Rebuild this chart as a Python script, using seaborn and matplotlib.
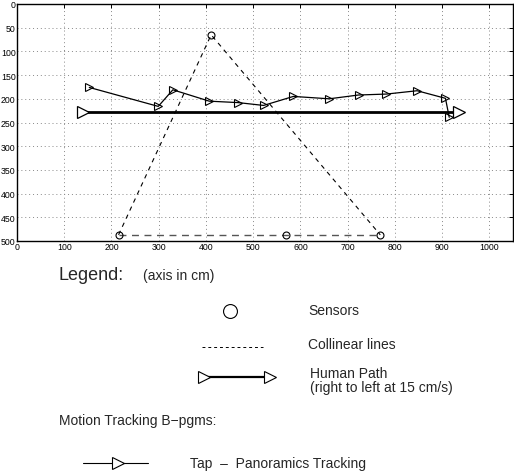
import numpy as np
import pandas as pd
import seaborn as sns
import matplotlib.pyplot as plt
from matplotlib.lines import Line2D

# sensor positions (cm)
sensor_x = [411, 215, 570, 769]
sensor_y = [65, 487, 487, 487]

# collinear lines through the sensors
coll_x = [215, 411, 769]
coll_y = [487, 65, 487]
base_x = [215, 769]
base_y = [487, 487]

# human path (right to left at 15 cm/s)
human_x = [140, 935]
human_y = [228, 228]

# Tap - panoramics tracking estimates
track_x = [153, 299, 330, 407, 468, 522, 585, 661, 723, 782, 847, 907, 915]
track_y = [176, 216, 181, 205, 208, 214, 195, 200, 192, 190, 183, 199, 239]

x_ticks = list(range(0, 1001, 100))
y_ticks = list(range(0, 501, 50))

sns.set_style("white")
plt.rcParams['font.family'] = ['Liberation Sans', 'DejaVu Sans']

fig = plt.figure(figsize=(5.14, 4.77), dpi=100)
ax = fig.add_axes([17 / 514, 1 - 242 / 477, 496 / 514, 237 / 477])

tracks = pd.DataFrame({'x': track_x, 'y': track_y})
human = pd.DataFrame({'x': human_x, 'y': human_y})
sensors = pd.DataFrame({'x': sensor_x, 'y': sensor_y})

ax.plot(coll_x, coll_y, color='black', lw=0.8, dashes=(4, 4))
ax.plot(base_x, base_y, color='#555555', lw=1.0, dashes=(5, 4))
sns.lineplot(data=human, x='x', y='y', sort=False, color='black', lw=2.0,
             marker='>', markersize=9, markerfacecolor='white',
             markeredgecolor='black', markeredgewidth=0.9, ax=ax)
sns.lineplot(data=tracks, x='x', y='y', sort=False, color='black', lw=0.9,
             marker='>', markersize=6, markerfacecolor='none',
             markeredgecolor='black', markeredgewidth=0.8, ax=ax)
ax.plot(sensors['x'], sensors['y'], ls='none', marker='o', markersize=5,
        markerfacecolor='none', markeredgecolor='black', markeredgewidth=0.8)

ax.set_xlim(0, 1050)
ax.set_ylim(500, 0)
ax.set_xticks(x_ticks)
ax.set_yticks(y_ticks)
ax.set_xlabel('')
ax.set_ylabel('')
ax.grid(True, color='#888888', ls=(0, (1, 3)), lw=0.7)
ax.tick_params(direction='in', length=3, width=0.7, labelsize=6.3, pad=1,
               top=True, right=True, colors='black')
for s in ax.spines.values():
    s.set_linewidth(1.0)
    s.set_color('black')

# legend block drawn in figure pixel coordinates
def fx(px):
    return px / 514

def fy(py):
    return 1 - py / 477

fig.text(fx(59), fy(276), 'Legend:', fontsize=13, va='center')
fig.text(fx(143), fy(276), '(axis in cm)', fontsize=10, va='center')

fig.add_artist(Line2D([fx(230)], [fy(312)], ls='none', marker='o', markersize=10,
                      markerfacecolor='none', markeredgecolor='black', markeredgewidth=0.8))
fig.text(fx(308), fy(311), 'Sensors', fontsize=10, va='center')

fig.add_artist(Line2D([fx(202), fx(263)], [fy(348), fy(348)], color='black',
                      lw=0.7, dashes=(3, 3)))
fig.text(fx(308), fy(345), 'Collinear lines', fontsize=10, va='center')

fig.add_artist(Line2D([fx(204), fx(270)], [fy(378), fy(378)], color='black', lw=1.6,
                      marker='>', markersize=9, markerfacecolor='white',
                      markeredgecolor='black', markeredgewidth=0.8))
fig.text(fx(310), fy(374), 'Human Path', fontsize=10, va='center')
fig.text(fx(310), fy(388), '(right to left at 15 cm/s)', fontsize=10, va='center')

fig.text(fx(59), fy(421), 'Motion Tracking B\u2212pgms:', fontsize=10, va='center')

fig.add_artist(Line2D([fx(83), fx(148)], [fy(464), fy(464)], color='black', lw=0.8))
fig.add_artist(Line2D([fx(118)], [fy(464)], ls='none', marker='>', markersize=9,
                      markerfacecolor='white', markeredgecolor='black', markeredgewidth=0.8))
fig.text(fx(190), fy(464), 'Tap  \u2013  Panoramics Tracking', fontsize=10, va='center')

fig.savefig('out.png', dpi=100)
